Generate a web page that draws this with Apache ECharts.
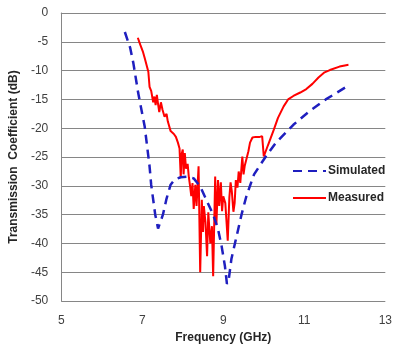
<!DOCTYPE html>
<html>
<head>
<meta charset="utf-8">
<script src="https://cdn.jsdelivr.net/npm/echarts@6/dist/echarts.min.js"></script>
<style>
html,body{margin:0;padding:0;background:#fff;}
#chart{width:395px;height:349px;}
</style>
</head>
<body>
<div id="chart"></div>
<script>
// frequency (GHz) / transmission coefficient (dB)
var simFreq = [6.57,6.7,6.78,6.9,7.06,7.18,7.22,7.32,7.39,7.51,7.6,7.7,7.8,7.95,8.1,8.27,8.43,8.6,8.75,8.87,8.96,9.04,9.09,9.13,9.2,9.33,9.45,9.57,9.76,9.9,10.05,10.3,10.73,11.1,11.53,12.04];
var simVal  = [-3.3,-6,-8.7,-13.9,-19.7,-26.6,-29.8,-35,-37.4,-35,-32.2,-29.8,-28.9,-28.5,-28.4,-28.7,-30.1,-32.7,-35,-37.5,-40.5,-43.9,-47,-46.5,-42.7,-38.7,-35,-31.8,-28,-26.5,-24.9,-22.5,-19.4,-17.2,-15,-12.8];

var measFreq = [6.89,6.95,7.02,7.06,7.1,7.15,7.18,7.22,7.27,7.3,7.33,7.36,7.39,7.42,7.46,7.5,7.55,7.6,7.63,7.7,7.78,7.83,7.88,7.92,7.95,7.97,8.0,8.02,8.05,8.08,8.12,8.15,8.18,8.21,8.24,8.27,8.31,8.34,8.39,8.43,8.47,8.5,8.52,8.56,8.6,8.63,8.68,8.72,8.75,8.8,8.83,8.87,8.9,8.94,8.97,9.0,9.05,9.11,9.15,9.18,9.21,9.25,9.28,9.31,9.35,9.38,9.42,9.47,9.5,9.53,9.57,9.62,9.66,9.72,9.8,9.9,9.96,10.0,10.1,10.25,10.35,10.49,10.6,10.73,10.9,11.05,11.2,11.35,11.5,11.63,11.87,12.0,12.09];
var measVal  = [-4.3,-5.5,-6.8,-7.8,-8.0,-10.2,-12.8,-13.5,-15.5,-14.5,-16,-14.2,-15.8,-17.2,-15.5,-16.8,-18,-17.5,-18.8,-20.5,-21,-21.5,-22.5,-23.5,-28.6,-24.5,-23.7,-28,-24.3,-27,-26.2,-28.5,-30,-31.8,-29.5,-34,-29.8,-33.5,-26.6,-45,-32.4,-38,-33.5,-36.3,-42.2,-34.6,-40,-37,-45.7,-28.4,-36.7,-29,-33.5,-29.4,-34.4,-31.8,-33,-39.5,-32,-29.4,-30.9,-34.5,-33,-29,-30.3,-27.5,-29.5,-24.9,-28,-26.5,-26.8,-24,-22.5,-21.6,-21.5,-21.5,-21.4,-24.9,-23,-20.2,-18.2,-16.2,-15,-14.4,-13.8,-13.2,-12.3,-11.2,-10.3,-9.9,-9.3,-9.1,-9.0];

var seriesNames = ['Simulated','Measured'];

function pairs(xs, ys){
	var out = [];
	for(var i=0;i<xs.length;i++){
		out.push([xs[i], ys[i]]);
	}
	return out;
}

var myChart = echarts.init(document.getElementById('chart'));
var font = '"Liberation Sans", Arial, sans-serif';

var option = {
	animation: false,
	grid: {
		left: 58,
		right: 6,
		top: 13,
		bottom: 47
	},
	legend: {
		orient: 'vertical',
		left: 292,
		top: 165,
		padding: 0,
		itemWidth: 33,
		itemHeight: 14,
		itemGap: 15,
		itemStyle: { color: 'transparent', borderColor: 'transparent', borderWidth: 0 },
		textStyle: {
			fontFamily: font,
			fontSize: 12,
			fontWeight: 'bold',
			color: '#262626',
			padding: [0,0,0,-3]
		},
		data: seriesNames
	},
	xAxis: {
		type: 'value',
		min: 5,
		max: 13,
		interval: 2,
		name: 'Frequency (GHz)',
		nameLocation: 'middle',
		nameGap: 30,
		nameTextStyle: {
			fontFamily: font,
			fontSize: 12,
			fontWeight: 'bold',
			color: '#262626'
		},
		axisLine: { lineStyle: { color: '#868686', width: 1 } },
		axisTick: { show: false },
		splitLine: { show: false },
		axisLabel: {
			fontFamily: font,
			fontSize: 12,
			color: '#404040',
			margin: 14
		}
	},
	yAxis: {
		type: 'value',
		min: -50,
		max: 0,
		interval: 5,
		name: 'Transmission  Coefficient (dB)',
		nameLocation: 'middle',
		nameGap: 33,
		nameTextStyle: {
			fontFamily: font,
			fontSize: 12,
			fontWeight: 'bold',
			color: '#262626'
		},
		axisLine: { show: true, lineStyle: { color: '#868686', width: 1 } },
		axisTick: { show: false },
		splitLine: { lineStyle: { color: '#868686', width: 1 } },
		axisLabel: {
			fontFamily: font,
			fontSize: 12,
			color: '#404040',
			margin: 13
		}
	},
	series: [
		{
			name: seriesNames[0],
			type: 'line',
			symbol: 'none',
			z: 3,
			lineStyle: {
				color: '#1f1fbf',
				width: 2.5,
				type: [9,6]
			},
			itemStyle: { color: '#1f1fbf' },
			data: pairs(simFreq, simVal)
		},
		{
			name: seriesNames[1],
			type: 'line',
			symbol: 'none',
			z: 2,
			lineStyle: {
				color: '#ff0000',
				width: 2
			},
			itemStyle: { color: '#ff0000' },
			data: pairs(measFreq, measVal)
		}
	]
};

myChart.setOption(option);
</script>
</body>
</html>
